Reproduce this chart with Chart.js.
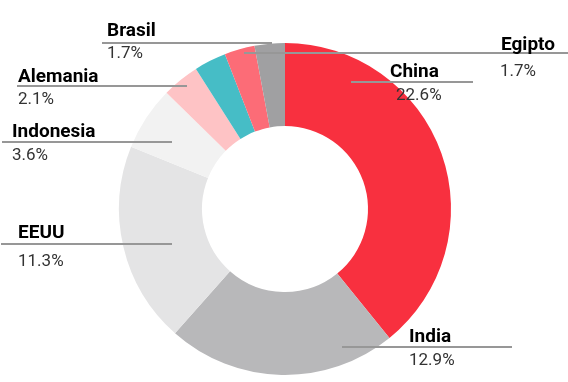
<!DOCTYPE html>
<html>
<head>
<meta charset="utf-8">
<script src="https://cdn.jsdelivr.net/npm/chart.js@4"></script>
<style>
html,body{margin:0;padding:0;background:#fff;}
#wrap{width:568px;height:382px;position:relative;}
</style>
</head>
<body>
<div id="wrap"><canvas id="c" width="568" height="382"></canvas></div>
<script>
const categories = ['China', 'India', 'EEUU', 'Indonesia', 'Alemania', '', 'Egipto', 'Brasil'];
const values = [22.6, 12.9, 11.3, 3.6, 2.1, 1.8, 1.7, 1.7];
const sliceColors = ['#F8303F', '#B8B8BA', '#E4E4E5', '#F2F2F2', '#FEC3C5', '#46BDC6', '#FC6C77', '#A0A0A2'];

// label placement (layout only): index, name x, name baseline, line y, line x1, line x2, pct x, pct baseline
const labelLayout = [
  {i: 0, x: 390, ny: 77,  ly: 82,  x1: 351, x2: 473, px: 396, py: 100},
  {i: 1, x: 409, ny: 342, ly: 347, x1: 342, x2: 512, px: 409, py: 365},
  {i: 2, x: 18,  ny: 238, ly: 244, x1: 1,   x2: 172, px: 18,  py: 266},
  {i: 3, x: 12,  ny: 137, ly: 142, x1: 2,   x2: 172, px: 12,  py: 160},
  {i: 4, x: 18,  ny: 82,  ly: 86,  x1: 17,  x2: 187, px: 18,  py: 104},
  {i: 6, x: 501, ny: 50,  ly: 53,  x1: 244, x2: 568, px: 500, py: 76},
  {i: 7, x: 107, ny: 36,  ly: 43,  x1: 102, x2: 272, px: 107, py: 58}
];

const labelPlugin = {
  id: 'calloutLabels',
  afterDatasetsDraw(chart) {
    const ctx = chart.ctx;
    ctx.save();
    labelLayout.forEach(l => {
      ctx.strokeStyle = '#979797';
      ctx.lineWidth = 2;
      ctx.beginPath();
      ctx.moveTo(l.x1, l.ly);
      ctx.lineTo(l.x2, l.ly);
      ctx.stroke();
      ctx.textAlign = 'left';
      ctx.textBaseline = 'alphabetic';
      ctx.fillStyle = '#000';
      ctx.font = 'bold 19px Roboto';
      ctx.fillText(categories[l.i], l.x, l.ny);
      ctx.fillStyle = '#333';
      ctx.font = '17px Roboto';
      ctx.fillText(values[l.i].toFixed(1) + '%', l.px, l.py);
    });
    ctx.restore();
  }
};

new Chart(document.getElementById('c'), {
  type: 'doughnut',
  data: {
    labels: categories,
    datasets: [{
      data: values,
      backgroundColor: sliceColors,
      borderWidth: 0,
      hoverOffset: 0
    }]
  },
  options: {
    responsive: false,
    animation: false,
    cutout: '50%',
    layout: {padding: {top: 43, bottom: 7, left: 2, right: 0}},
    plugins: {legend: {display: false}, tooltip: {enabled: false}}
  },
  plugins: [labelPlugin]
});
</script>
</body>
</html>
